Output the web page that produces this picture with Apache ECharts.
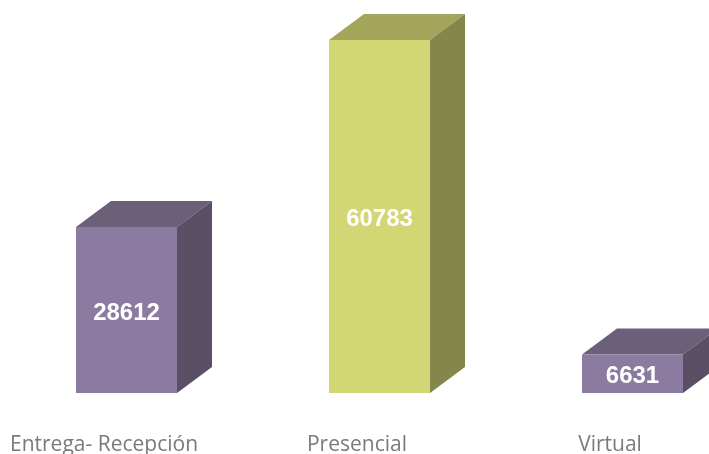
<!DOCTYPE html>
<html><head><meta charset="utf-8">
<style>html,body{margin:0;padding:0;background:#fff;overflow:hidden;width:709px;height:454px}#c{width:759px;height:454px}</style>
<script src="https://cdn.jsdelivr.net/npm/echarts@6/dist/echarts.min.js"></script>
</head><body><div id="c"></div>
<script>
const categories = ['Entrega- Recepción', 'Presencial', 'Virtual'];
const values = [28612, 60783, 6631];
const frontColors = ['#8B7BA0', '#D3D675', '#8B7BA0'];
const topColors = ['#6B6079', '#A3A55A', '#6B6079'];
const sideColors = ['#5A4F65', '#84864A', '#5A4F65'];
const DX = 35, DY = 26, BAR = 101;
const chart = echarts.init(document.getElementById('c'), null, {renderer:'canvas'});
chart.setOption({
  animation:false,
  backgroundColor:'#fff',
  grid:{left:0, right:0, top:40, bottom:61, containLabel:false, outerBoundsMode:'none'},
  xAxis:{type:'category', data:categories, axisLine:{show:false}, axisTick:{show:false},
    axisLabel:{color:'#7a7a7a', fontFamily:'Open Sans', fontSize:21, margin:42, interval:0, hideOverlap:false, padding:[0,45,0,0]}},
  yAxis:{type:'value', min:0, max:60800, show:false, splitLine:{show:false}},
  series:[{
    type:'custom', clip:false, data:values.map((v,i)=>[i,v]),
    encode:{x:0,y:1},
    renderItem(params, api){
      const i = api.value(0);
      const [cx, yt] = api.coord([i, api.value(1)]);
      const [, yb] = api.coord([i, 0]);
      const l = cx - BAR/2, r = cx + BAR/2;
      return {type:'group', children:[
        {type:'polygon', shape:{points:[[l,yt],[r,yt],[r+DX,yt-DY],[l+DX,yt-DY]]}, style:{fill:topColors[i]}},
        {type:'polygon', shape:{points:[[r,yt],[r+DX,yt-DY],[r+DX,yb-DY],[r,yb]]}, style:{fill:sideColors[i]}},
        {type:'rect', shape:{x:l,y:yt,width:BAR,height:yb-yt}, style:{fill:frontColors[i]}},
        {type:'text', style:{x:cx, y:(yt+yb)/2+3, text:String(api.value(1)), fill:'#fff',
          font:'bold 24px "Liberation Sans"', textAlign:'center', textVerticalAlign:'middle'}}
      ]};
    }
  }]
});
</script></body></html>
